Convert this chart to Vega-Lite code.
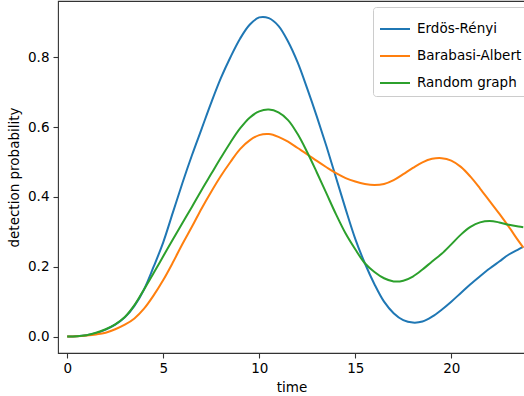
{
  "$schema": "https://vega.github.io/schema/vega-lite/v6.json",
  "width": 467,
  "height": 352,
  "autosize": "none",
  "padding": {"left": 58, "top": 1, "right": 0, "bottom": 43},
  "config": {
    "font": "DejaVu Sans",
    "view": {"stroke": "#333", "strokeWidth": 1.1},
    "axis": {
      "domain": false,
      "grid": false,
      "tickColor": "#333",
      "tickWidth": 1.1,
      "tickSize": 5,
      "labelFontSize": 13.5,
      "labelColor": "#000",
      "labelFont": "DejaVu Sans",
      "titleFont": "DejaVu Sans",
      "titleFontSize": 13.5,
      "titleFontWeight": "normal",
      "titleColor": "#000"
    }
  },
  "data": {
    "values": [
      {"t": 0, "p": 0, "series": "Erdös-Rényi"},
      {"t": 0.5, "p": 0.001, "series": "Erdös-Rényi"},
      {"t": 1, "p": 0.004, "series": "Erdös-Rényi"},
      {"t": 1.5, "p": 0.01, "series": "Erdös-Rényi"},
      {"t": 2, "p": 0.02, "series": "Erdös-Rényi"},
      {"t": 2.5, "p": 0.034, "series": "Erdös-Rényi"},
      {"t": 3, "p": 0.055, "series": "Erdös-Rényi"},
      {"t": 3.5, "p": 0.088, "series": "Erdös-Rényi"},
      {"t": 4, "p": 0.135, "series": "Erdös-Rényi"},
      {"t": 4.5, "p": 0.2, "series": "Erdös-Rényi"},
      {"t": 5, "p": 0.27, "series": "Erdös-Rényi"},
      {"t": 5.5, "p": 0.355, "series": "Erdös-Rényi"},
      {"t": 6, "p": 0.44, "series": "Erdös-Rényi"},
      {"t": 6.5, "p": 0.52, "series": "Erdös-Rényi"},
      {"t": 7, "p": 0.595, "series": "Erdös-Rényi"},
      {"t": 7.5, "p": 0.67, "series": "Erdös-Rényi"},
      {"t": 8, "p": 0.74, "series": "Erdös-Rényi"},
      {"t": 8.5, "p": 0.8, "series": "Erdös-Rényi"},
      {"t": 9, "p": 0.853, "series": "Erdös-Rényi"},
      {"t": 9.5, "p": 0.893, "series": "Erdös-Rényi"},
      {"t": 10, "p": 0.914, "series": "Erdös-Rényi"},
      {"t": 10.5, "p": 0.912, "series": "Erdös-Rényi"},
      {"t": 11, "p": 0.89, "series": "Erdös-Rényi"},
      {"t": 11.5, "p": 0.845, "series": "Erdös-Rényi"},
      {"t": 12, "p": 0.785, "series": "Erdös-Rényi"},
      {"t": 12.5, "p": 0.71, "series": "Erdös-Rényi"},
      {"t": 13, "p": 0.63, "series": "Erdös-Rényi"},
      {"t": 13.5, "p": 0.545, "series": "Erdös-Rényi"},
      {"t": 14, "p": 0.455, "series": "Erdös-Rényi"},
      {"t": 14.5, "p": 0.365, "series": "Erdös-Rényi"},
      {"t": 15, "p": 0.28, "series": "Erdös-Rényi"},
      {"t": 15.5, "p": 0.21, "series": "Erdös-Rényi"},
      {"t": 16, "p": 0.15, "series": "Erdös-Rényi"},
      {"t": 16.5, "p": 0.1, "series": "Erdös-Rényi"},
      {"t": 17, "p": 0.067, "series": "Erdös-Rényi"},
      {"t": 17.5, "p": 0.047, "series": "Erdös-Rényi"},
      {"t": 18, "p": 0.04, "series": "Erdös-Rényi"},
      {"t": 18.5, "p": 0.043, "series": "Erdös-Rényi"},
      {"t": 19, "p": 0.057, "series": "Erdös-Rényi"},
      {"t": 19.5, "p": 0.077, "series": "Erdös-Rényi"},
      {"t": 20, "p": 0.1, "series": "Erdös-Rényi"},
      {"t": 20.5, "p": 0.125, "series": "Erdös-Rényi"},
      {"t": 21, "p": 0.15, "series": "Erdös-Rényi"},
      {"t": 21.5, "p": 0.173, "series": "Erdös-Rényi"},
      {"t": 22, "p": 0.195, "series": "Erdös-Rényi"},
      {"t": 22.5, "p": 0.215, "series": "Erdös-Rényi"},
      {"t": 23, "p": 0.235, "series": "Erdös-Rényi"},
      {"t": 23.5, "p": 0.25, "series": "Erdös-Rényi"},
      {"t": 23.75, "p": 0.257, "series": "Erdös-Rényi"},

      {"t": 0, "p": 0, "series": "Barabasi-Albert"},
      {"t": 0.5, "p": 0.001, "series": "Barabasi-Albert"},
      {"t": 1, "p": 0.003, "series": "Barabasi-Albert"},
      {"t": 1.5, "p": 0.006, "series": "Barabasi-Albert"},
      {"t": 2, "p": 0.011, "series": "Barabasi-Albert"},
      {"t": 2.5, "p": 0.021, "series": "Barabasi-Albert"},
      {"t": 3, "p": 0.034, "series": "Barabasi-Albert"},
      {"t": 3.5, "p": 0.052, "series": "Barabasi-Albert"},
      {"t": 4, "p": 0.08, "series": "Barabasi-Albert"},
      {"t": 4.5, "p": 0.118, "series": "Barabasi-Albert"},
      {"t": 5, "p": 0.162, "series": "Barabasi-Albert"},
      {"t": 5.5, "p": 0.212, "series": "Barabasi-Albert"},
      {"t": 6, "p": 0.265, "series": "Barabasi-Albert"},
      {"t": 6.5, "p": 0.315, "series": "Barabasi-Albert"},
      {"t": 7, "p": 0.367, "series": "Barabasi-Albert"},
      {"t": 7.5, "p": 0.415, "series": "Barabasi-Albert"},
      {"t": 8, "p": 0.46, "series": "Barabasi-Albert"},
      {"t": 8.5, "p": 0.5, "series": "Barabasi-Albert"},
      {"t": 9, "p": 0.537, "series": "Barabasi-Albert"},
      {"t": 9.5, "p": 0.562, "series": "Barabasi-Albert"},
      {"t": 10, "p": 0.577, "series": "Barabasi-Albert"},
      {"t": 10.5, "p": 0.58, "series": "Barabasi-Albert"},
      {"t": 11, "p": 0.572, "series": "Barabasi-Albert"},
      {"t": 11.5, "p": 0.558, "series": "Barabasi-Albert"},
      {"t": 12, "p": 0.54, "series": "Barabasi-Albert"},
      {"t": 12.5, "p": 0.522, "series": "Barabasi-Albert"},
      {"t": 13, "p": 0.503, "series": "Barabasi-Albert"},
      {"t": 13.5, "p": 0.485, "series": "Barabasi-Albert"},
      {"t": 14, "p": 0.468, "series": "Barabasi-Albert"},
      {"t": 14.5, "p": 0.454, "series": "Barabasi-Albert"},
      {"t": 15, "p": 0.444, "series": "Barabasi-Albert"},
      {"t": 15.5, "p": 0.437, "series": "Barabasi-Albert"},
      {"t": 16, "p": 0.434, "series": "Barabasi-Albert"},
      {"t": 16.5, "p": 0.437, "series": "Barabasi-Albert"},
      {"t": 17, "p": 0.448, "series": "Barabasi-Albert"},
      {"t": 17.5, "p": 0.465, "series": "Barabasi-Albert"},
      {"t": 18, "p": 0.483, "series": "Barabasi-Albert"},
      {"t": 18.5, "p": 0.499, "series": "Barabasi-Albert"},
      {"t": 19, "p": 0.509, "series": "Barabasi-Albert"},
      {"t": 19.5, "p": 0.511, "series": "Barabasi-Albert"},
      {"t": 20, "p": 0.504, "series": "Barabasi-Albert"},
      {"t": 20.5, "p": 0.486, "series": "Barabasi-Albert"},
      {"t": 21, "p": 0.458, "series": "Barabasi-Albert"},
      {"t": 21.5, "p": 0.424, "series": "Barabasi-Albert"},
      {"t": 22, "p": 0.388, "series": "Barabasi-Albert"},
      {"t": 22.5, "p": 0.352, "series": "Barabasi-Albert"},
      {"t": 23, "p": 0.314, "series": "Barabasi-Albert"},
      {"t": 23.5, "p": 0.274, "series": "Barabasi-Albert"},
      {"t": 23.75, "p": 0.255, "series": "Barabasi-Albert"},

      {"t": 0, "p": 0, "series": "Random graph"},
      {"t": 0.5, "p": 0.001, "series": "Random graph"},
      {"t": 1, "p": 0.004, "series": "Random graph"},
      {"t": 1.5, "p": 0.011, "series": "Random graph"},
      {"t": 2, "p": 0.021, "series": "Random graph"},
      {"t": 2.5, "p": 0.035, "series": "Random graph"},
      {"t": 3, "p": 0.056, "series": "Random graph"},
      {"t": 3.5, "p": 0.09, "series": "Random graph"},
      {"t": 4, "p": 0.135, "series": "Random graph"},
      {"t": 4.5, "p": 0.182, "series": "Random graph"},
      {"t": 5, "p": 0.23, "series": "Random graph"},
      {"t": 5.5, "p": 0.278, "series": "Random graph"},
      {"t": 6, "p": 0.325, "series": "Random graph"},
      {"t": 6.5, "p": 0.372, "series": "Random graph"},
      {"t": 7, "p": 0.42, "series": "Random graph"},
      {"t": 7.5, "p": 0.466, "series": "Random graph"},
      {"t": 8, "p": 0.512, "series": "Random graph"},
      {"t": 8.5, "p": 0.556, "series": "Random graph"},
      {"t": 9, "p": 0.596, "series": "Random graph"},
      {"t": 9.5, "p": 0.627, "series": "Random graph"},
      {"t": 10, "p": 0.645, "series": "Random graph"},
      {"t": 10.5, "p": 0.65, "series": "Random graph"},
      {"t": 11, "p": 0.642, "series": "Random graph"},
      {"t": 11.5, "p": 0.62, "series": "Random graph"},
      {"t": 12, "p": 0.58, "series": "Random graph"},
      {"t": 12.5, "p": 0.528, "series": "Random graph"},
      {"t": 13, "p": 0.47, "series": "Random graph"},
      {"t": 13.5, "p": 0.41, "series": "Random graph"},
      {"t": 14, "p": 0.35, "series": "Random graph"},
      {"t": 14.5, "p": 0.295, "series": "Random graph"},
      {"t": 15, "p": 0.25, "series": "Random graph"},
      {"t": 15.5, "p": 0.21, "series": "Random graph"},
      {"t": 16, "p": 0.185, "series": "Random graph"},
      {"t": 16.5, "p": 0.167, "series": "Random graph"},
      {"t": 17, "p": 0.158, "series": "Random graph"},
      {"t": 17.5, "p": 0.16, "series": "Random graph"},
      {"t": 18, "p": 0.172, "series": "Random graph"},
      {"t": 18.5, "p": 0.192, "series": "Random graph"},
      {"t": 19, "p": 0.215, "series": "Random graph"},
      {"t": 19.5, "p": 0.237, "series": "Random graph"},
      {"t": 20, "p": 0.264, "series": "Random graph"},
      {"t": 20.5, "p": 0.292, "series": "Random graph"},
      {"t": 21, "p": 0.314, "series": "Random graph"},
      {"t": 21.5, "p": 0.327, "series": "Random graph"},
      {"t": 22, "p": 0.331, "series": "Random graph"},
      {"t": 22.5, "p": 0.327, "series": "Random graph"},
      {"t": 23, "p": 0.32, "series": "Random graph"},
      {"t": 23.5, "p": 0.315, "series": "Random graph"},
      {"t": 23.75, "p": 0.313, "series": "Random graph"}
    ]
  },
  "mark": {"type": "line", "strokeWidth": 2, "interpolate": "catmull-rom", "clip": true},
  "encoding": {
    "x": {
      "field": "t",
      "type": "quantitative",
      "scale": {"domain": [-0.48, 23.84], "nice": false, "zero": false},
      "axis": {"values": [0, 5, 10, 15, 20], "format": "d", "title": "time", "labelPadding": 3, "titlePadding": 6}
    },
    "y": {
      "field": "p",
      "type": "quantitative",
      "scale": {"domain": [-0.047, 0.961], "nice": false, "zero": false},
      "axis": {"values": [0, 0.2, 0.4, 0.6, 0.8], "format": ".1f", "title": "detection probability", "labelPadding": 4, "titlePadding": 6}
    },
    "color": {
      "field": "series",
      "type": "nominal",
      "sort": ["Erdös-Rényi", "Barabasi-Albert", "Random graph"],
      "scale": {"domain": ["Erdös-Rényi", "Barabasi-Albert", "Random graph"], "range": ["#1f77b4", "#ff7f0e", "#2ca02c"]},
      "legend": {
        "title": null,
        "orient": "none",
        "legendX": 315,
        "legendY": 6,
        "symbolType": "stroke",
        "symbolSize": 900,
        "symbolStrokeWidth": 2,
        "labelFontSize": 13.5,
        "labelColor": "#000",
        "labelOffset": 6,
        "rowPadding": 4,
        "padding": 6,
        "fillColor": "#fff",
        "strokeColor": "#ccc",
        "cornerRadius": 3
      }
    }
  }
}
